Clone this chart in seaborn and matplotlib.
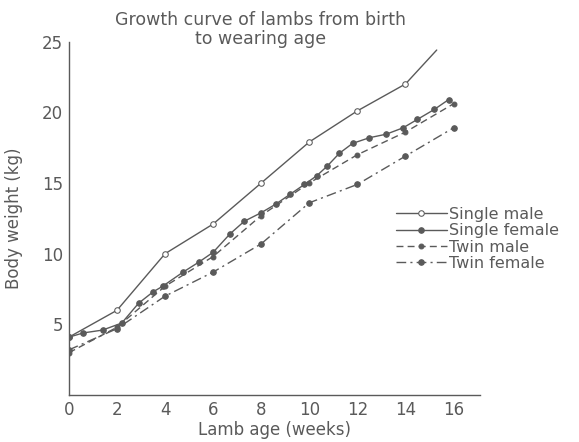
import matplotlib
matplotlib.use('Agg')
import matplotlib.pyplot as plt
import seaborn as sns

# lamb growth curves
single_male_wk = [0, 2, 4, 6, 8, 10, 12, 14, 15.3]
single_male_kg = [4.1, 6.0, 10.0, 12.1, 15.0, 17.9, 20.1, 22.0, 24.4]

single_female_wk = [0, 0.6, 1.4, 2.2, 2.9, 3.5, 3.9, 4.75, 5.4, 6, 6.7, 7.3, 8, 8.6,
                    9.2, 9.8, 10.3, 10.75, 11.25, 11.8, 12.5, 13.2, 13.9, 14.5, 15.2, 15.8]
single_female_kg = [4.1, 4.4, 4.6, 5.1, 6.5, 7.3, 7.7, 8.7, 9.4, 10.1, 11.4, 12.3, 12.9, 13.5,
                    14.2, 14.9, 15.5, 16.2, 17.1, 17.8, 18.2, 18.45, 18.9, 19.5, 20.2, 20.9]

twin_male_wk = [0, 2, 4, 6, 8, 10, 12, 14, 16]
twin_male_kg = [3.0, 4.8, 7.7, 9.8, 12.7, 15.0, 17.0, 18.6, 20.6]

twin_female_wk = [0, 2, 4, 6, 8, 10, 12, 14, 16]
twin_female_kg = [3.2, 4.7, 7.0, 8.7, 10.7, 13.6, 14.9, 16.9, 18.9]

x_ticks = [0, 2, 4, 6, 8, 10, 12, 14, 16]
y_ticks = [5, 10, 15, 20, 25]

sns.set_style('white')
plt.rcParams['font.family'] = ['DejaVu Sans']

ink = '#5a5a5a'
fig = plt.figure(figsize=(5.79, 4.42), dpi=100)
ax = fig.add_axes([0.119, 0.106, 0.71, 0.8])

sns.lineplot(x=single_male_wk, y=single_male_kg, ax=ax, color=ink, lw=1.0,
             marker='o', ms=4, mfc='white', mec=ink, markevery=list(range(8)),
             label='Single male')
sns.lineplot(x=single_female_wk, y=single_female_kg, ax=ax, color=ink, lw=1.0,
             marker='o', ms=4, mfc=ink, mec=ink, label='Single female')
sns.lineplot(x=twin_male_wk, y=twin_male_kg, ax=ax, color=ink, lw=1.0,
             linestyle=(0, (5, 3)), marker='o', ms=3.5, mfc=ink, mec=ink,
             label='Twin male')
sns.lineplot(x=twin_female_wk, y=twin_female_kg, ax=ax, color=ink, lw=1.0,
             linestyle=(0, (7, 3, 1.5, 3)), marker='o', ms=4, mfc=ink, mec=ink,
             label='Twin female')

ax.set_xlim(0, 17.1)
ax.set_ylim(0, 24.9)
ax.set_xticks(x_ticks)
ax.set_yticks(y_ticks)
ax.tick_params(direction='in', length=4, colors=ink, labelsize=12, pad=4)
for s in ['top', 'right']:
    ax.spines[s].set_visible(False)
for s in ['left', 'bottom']:
    ax.spines[s].set_color(ink)
    ax.spines[s].set_linewidth(1.0)

ax.set_xlabel('Lamb age (weeks)', fontsize=12, color=ink, labelpad=2)
ax.set_ylabel('Body weight (kg)', fontsize=12, color=ink, labelpad=14)

fig.text(0.45, 0.975, 'Growth curve of lambs from birth\nto wearing age',
         ha='center', va='top', fontsize=12.5, color=ink, linespacing=1.05)

leg = ax.legend(loc='upper left', bbox_to_anchor=(0.78, 0.55), frameon=False,
                fontsize=11.5, handlelength=3.2, handletextpad=0.1,
                labelspacing=0.08, borderaxespad=0, labelcolor=ink)

fig.savefig('out.png', dpi=100, facecolor='white')
